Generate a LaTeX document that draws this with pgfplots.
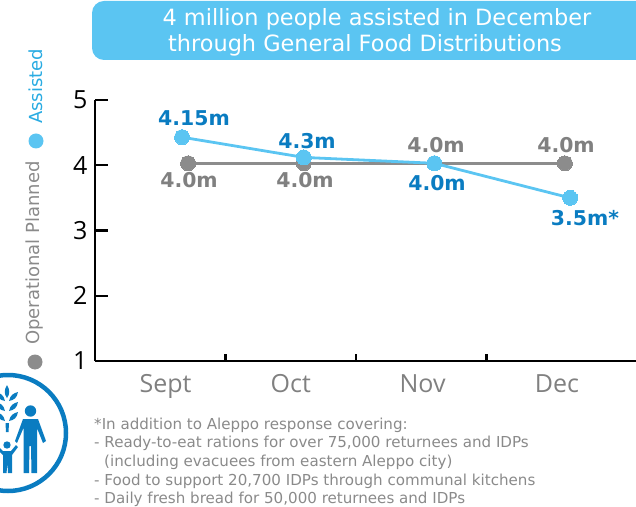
\documentclass[border=0pt]{standalone}
\usepackage{pgfplots}
\pgfplotsset{compat=1.18}
\usepackage{fontspec}
\setmainfont{DejaVu Sans}
\newfontfamily\opensans{Open Sans}
\definecolor{sky}{HTML}{5BC5F2}
\definecolor{deep}{HTML}{0A7CC1}
\definecolor{mid}{HTML}{808080}
\definecolor{gdot}{HTML}{8C8C8C}
\definecolor{txt}{HTML}{8A8A8A}
\definecolor{asst}{HTML}{29ABE2}
\begin{document}
\begin{tikzpicture}
\useasboundingbox (0,0) rectangle (636pt,506pt);
\clip (0,0) rectangle (636pt,506pt);
\begin{scope}[x=1pt,y=-1pt,yshift=506pt]
% banner
\fill[sky,rounded corners=12pt] (92,1) rectangle (680,60);
\node[white,inner sep=0pt,font=\fontsize{22.4}{22.4}\selectfont,anchor=base] at (377,26) {4 million people assisted in December};
\node[white,inner sep=0pt,font=\fontsize{22.4}{22.4}\selectfont,anchor=base] at (365,52) {through General Food Distributions};
% rotated legend
\node[asst,inner sep=0pt,rotate=90,anchor=west,font=\fontsize{18}{18}\selectfont] at (36,124) {Assisted};
\node[txt,inner sep=0pt,rotate=90,anchor=west,font=\fontsize{18}{18}\selectfont] at (35,345) {Operational Planned};
\fill[sky] (36,141) circle (7.5);
\fill[gdot] (35,362) circle (7.5);
\end{scope}
\begin{axis}[
  at={(95pt,145pt)}, anchor=origin, scale only axis,
  width=541pt, height=261pt,
  xmin=0, xmax=4.145, ymin=1, ymax=5,
  axis lines=left, axis line style={black,line width=2.2pt,-},
  xtick={0.54,1.50,2.51,3.54},
  xticklabels={Sept,Oct,Nov,Dec},
  ytick={1,2,3,4,5},
  major tick length=13pt,
  x tick style={draw=none},
  y tick style={black,line width=2.2pt},
  extra x ticks={1,2,3}, extra x tick labels={},
  extra x tick style={major tick length=7pt, x tick style={draw=black,line width=2.2pt}, tick style={draw=black,line width=2.2pt}},
  tick align=inside,
  /pgf/number format/assume math mode=true,
  yticklabel style={font=\opensans\fontsize{25}{25}\selectfont,black,xshift=-4pt},
  xticklabel style={font=\opensans\fontsize{25}{25}\selectfont,mid,yshift=-10pt},
  clip=false,
]
\addplot[gdot,line width=2.8pt,mark=*,mark size=7.5pt,mark options={fill=gdot,draw=gdot,line width=0pt}]
  coordinates {(0.713,4.03)(1.60,4.03)(2.60,4.03)(3.60,4.03)};
\addplot[sky,line width=2.8pt,mark=*,mark size=7.5pt,mark options={fill=sky,draw=sky,line width=0pt}]
  coordinates {(0.667,4.43)(1.60,4.12)(2.60,4.03)(3.64,3.50)};
\end{axis}
\begin{scope}[x=1pt,y=-1pt,yshift=506pt]
% data labels
\begin{scope}[every node/.style={inner sep=0pt,font=\bfseries\fontsize{20.4}{20.4}\selectfont,anchor=base}]
\node[deep] at (194,125.5) {4.15m};
\node[deep] at (307,149) {4.3m};
\node[deep] at (437,191) {4.0m};
\node[deep] at (585,226) {3.5m*};
\node[mid] at (189,188) {4.0m};
\node[mid] at (305,188) {4.0m};
\node[mid] at (436,153) {4.0m};
\node[mid] at (566,153) {4.0m};
\end{scope}
% footnote
\begin{scope}[every node/.style={txt,inner sep=0pt,font=\fontsize{15.1}{15.1}\selectfont,anchor=base west}]
\node at (94,429) {*In addition to Aleppo response covering:};
\node at (94,447) {- Ready-to-eat rations for over 75,000 returnees and IDPs};
\node at (94,466) {\hspace*{10pt}(including evacuees from eastern Aleppo city)};
\node at (94,485) {- Food to support 20,700 IDPs through communal kitchens};
\node at (94,503) {- Daily fresh bread for 50,000 returnees and IDPs};
\end{scope}
% logo
\draw[deep,line width=4.5pt] (8,433) circle (58);
\fill[deep] (30.5,411) circle (5.7);
\fill[deep] (23,419) -- (38,419) -- (46,441) -- (43,443) -- (37,428) -- (37,473) -- (31.5,473) -- (31,446) -- (29.5,446) -- (29,473) -- (23.5,473) -- (23.5,428) -- (17,443) -- (15,441) -- cycle;
\fill[deep] (7,445) circle (3.7);
\fill[deep] (-1,447) -- (3,451) -- (11,451) -- (16,445) -- (18,447) -- (12,455) -- (12,473) -- (8,473) -- (7.5,463) -- (6.5,473) -- (3,473) -- (3,455) -- (-1,451) -- cycle;
% wheat
\fill[deep] (7,385) .. controls (10,390) and (10,394) .. (7,398) .. controls (4,394) and (4,390) .. (7,385) -- cycle;
\fill[deep] (5.5,423) -- (9,423) -- (8.5,432) -- (6,432) -- cycle;
\foreach \yy in {397,407,417}{
  \fill[deep] (9,\yy+4) .. controls (10,\yy-2) and (14,\yy-4) .. (18,\yy-5) .. controls (17,\yy+1) and (14,\yy+3) .. (9,\yy+4) -- cycle;
  \fill[deep] (5,\yy+4) .. controls (4,\yy-2) and (0,\yy-4) .. (-4,\yy-5) .. controls (-3,\yy+1) and (0,\yy+3) .. (5,\yy+4) -- cycle;
}
\end{scope}
\end{tikzpicture}
\end{document}
